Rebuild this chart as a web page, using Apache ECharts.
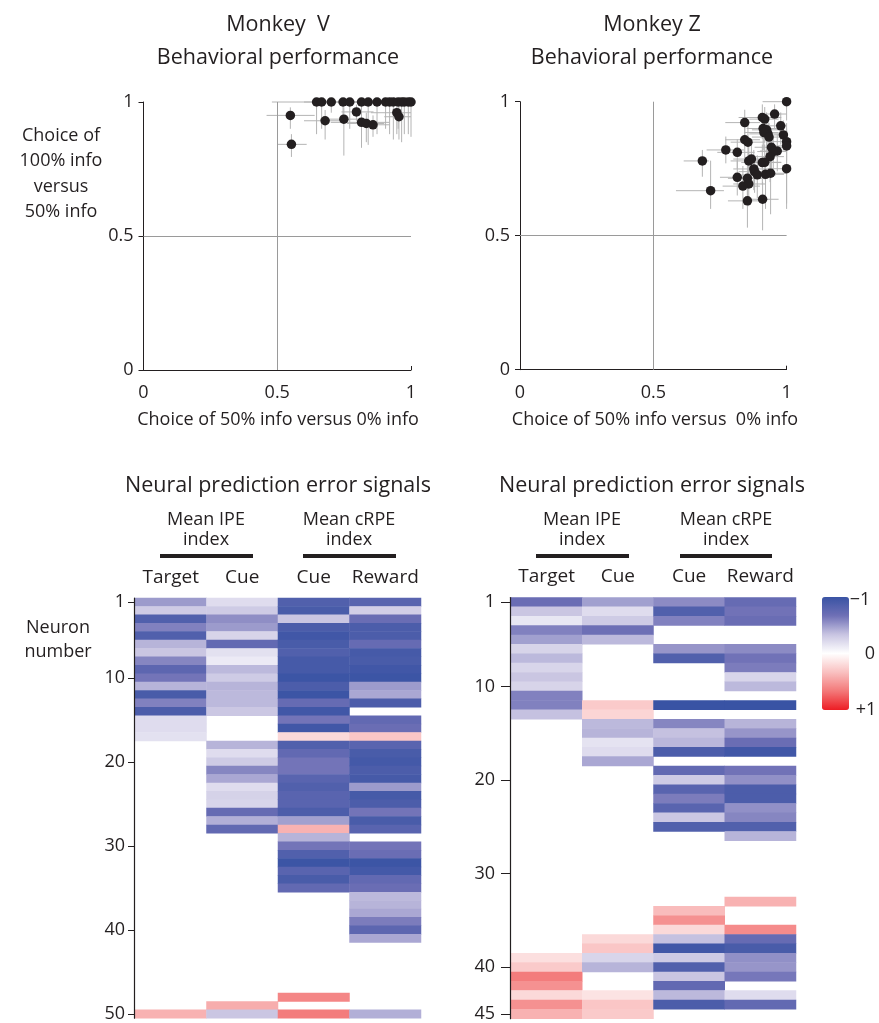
<!DOCTYPE html>
<html><head><meta charset="utf-8">
<script src="https://cdn.jsdelivr.net/npm/echarts@6/dist/echarts.min.js"></script>
<style>html,body{margin:0;padding:0;background:#fff}#c{width:879px;height:1023px}</style>
</head><body><div id="c"></div>
<script>
// ---------- Behavioral performance: Monkey V ----------
const vX   = [0.647,0.666,0.702,0.746,0.771,0.815,0.840,0.873,0.905,0.920,0.934,0.952,0.965,0.975,0.990,1.000,0.549,0.679,0.749,0.796,0.815,0.833,0.858,0.947,0.955,0.553];
const vY   = [1,1,1,1,1,1,1,1,1,1,1,1,1,1,1,1,0.950,0.930,0.936,0.963,0.924,0.920,0.915,0.960,0.945,0.842];
const vXlo = [0.48,0.60,0.66,0.70,0.72,0.78,0.80,0.83,0.86,0.88,0.90,0.92,0.93,0.94,0.96,0.97,0.46,0.60,0.66,0.74,0.70,0.76,0.80,0.85,0.90,0.50];
const vXhi = [0.70,0.72,0.75,0.80,0.82,0.86,0.88,0.91,0.95,0.96,0.97,0.99,1.00,1.00,1.00,1.00,0.64,0.74,0.84,0.86,0.92,0.90,0.92,1.00,1.00,0.61];
const vYlo = [0.88,0.90,0.96,0.92,0.90,0.83,0.84,0.88,0.90,0.88,0.86,0.90,0.85,0.88,0.88,0.87,0.90,0.86,0.80,0.93,0.83,0.85,0.87,0.88,0.86,0.795];
const vYhi = [1,1,1,1,1,1,1,1,1,1,1,1,1,1,1,1,0.98,0.97,0.98,0.99,0.97,0.96,0.95,1.00,0.99,0.88];

// ---------- Behavioral performance: Monkey Z ----------
const zX   = [1.000,0.955,0.909,0.918,0.843,0.978,0.912,0.925,0.930,0.915,0.988,0.934,0.843,0.855,1.000,1.000,0.943,0.965,0.950,0.772,0.815,0.938,0.684,0.858,0.868,0.909,0.918,0.877,0.880,1.000,0.890,0.921,0.940,0.815,0.853,0.858,0.836,0.715,0.853,0.910];
const zY   = [1.000,0.954,0.941,0.935,0.922,0.910,0.900,0.895,0.880,0.885,0.876,0.868,0.858,0.849,0.851,0.835,0.830,0.816,0.814,0.820,0.811,0.795,0.779,0.779,0.786,0.773,0.774,0.749,0.739,0.750,0.727,0.729,0.733,0.718,0.714,0.693,0.685,0.668,0.630,0.636];
const zXlo = [0.91,0.90,0.82,0.86,0.77,0.93,0.85,0.87,0.86,0.84,0.95,0.87,0.77,0.79,0.94,0.95,0.88,0.90,0.89,0.70,0.74,0.87,0.614,0.79,0.80,0.83,0.86,0.80,0.82,0.93,0.83,0.85,0.87,0.75,0.78,0.80,0.76,0.585,0.78,0.84];
const zXhi = [1.00,1.00,0.98,0.97,0.90,1.00,0.97,0.98,0.99,0.97,1.00,0.99,0.90,0.92,1.00,1.00,0.99,1.00,1.00,0.84,0.88,0.99,0.708,0.93,0.93,0.98,0.98,0.95,0.94,1.00,0.96,0.99,1.00,0.88,0.92,0.92,0.90,0.765,0.92,0.97];
const zYlo = [0.93,0.90,0.86,0.85,0.84,0.84,0.82,0.80,0.80,0.82,0.82,0.78,0.79,0.78,0.78,0.60,0.75,0.74,0.72,0.77,0.75,0.70,0.72,0.70,0.72,0.69,0.71,0.67,0.66,0.62,0.64,0.60,0.58,0.65,0.64,0.61,0.60,0.60,0.53,0.52];
const zYhi = [1.00,0.99,0.99,0.98,0.97,0.96,0.95,0.96,0.94,0.93,0.93,0.92,0.92,0.91,0.92,0.90,0.90,0.88,0.87,0.87,0.86,0.86,0.82,0.85,0.85,0.84,0.84,0.82,0.80,0.83,0.80,0.79,0.80,0.78,0.78,0.76,0.76,0.78,0.72,0.70];

const scatterTicks = [0, 0.5, 1];

// ---------- Neural prediction error signals ----------
const columnLabels = ['Target', 'Cue', 'Cue', 'Reward'];
const leftRowTicks = [1, 10, 20, 30, 40, 50];
const rightRowTicks = [1, 10, 20, 30, 40, 45];

// Monkey V (50 neurons)
const vTarget = [-0.5,-0.3,-0.85,-0.6,-0.85,-0.4,-0.33,-0.58,-0.78,-0.65,-0.4,-0.9,-0.6,-0.88,-0.2,-0.2,-0.17,
  null,null,null,null,null,null,null,null,null,null,null,null,null,null,null,null,null,null,null,null,null,null,null,null,null,null,null,null,null,null,null,null,0.4];
const vCueIPE = [-0.2,-0.3,-0.55,-0.5,-0.25,-0.75,-0.17,-0.12,-0.38,-0.3,-0.4,-0.38,-0.38,-0.32,null,null,null,
  -0.4,-0.2,-0.3,-0.58,-0.45,-0.2,-0.26,-0.24,-0.72,-0.42,-0.75,
  null,null,null,null,null,null,null,null,null,null,null,null,null,null,null,null,null,null,null,null,0.42,-0.33];
const vCueRPE = [-0.85,-0.9,-0.33,-0.88,-0.95,-0.9,-0.85,-0.92,-0.92,-0.98,-0.88,-0.98,-0.72,-0.95,-0.65,-0.95,0.2,
  -0.85,-0.75,-0.65,-0.65,-0.8,-0.85,-0.8,-0.8,-0.88,-0.48,0.4,-0.4,-0.65,-0.85,-0.98,-0.8,-0.9,-0.75,
  null,null,null,null,null,null,null,null,null,null,null,null,0.6,null,0.65];
const vReward = [-0.8,-0.28,-0.7,-0.88,-0.88,-0.72,-0.92,-0.9,-0.95,-0.98,-0.5,-0.45,-0.88,null,-0.75,-0.7,0.3,
  -0.8,-0.9,-0.93,-0.88,-0.92,-0.5,-0.92,-0.88,-0.65,-0.9,-0.8,null,-0.65,-0.7,-0.98,-0.93,-0.75,-0.7,
  -0.38,-0.4,-0.45,-0.62,-0.78,-0.45,null,null,null,null,null,null,null,null,-0.42];

// Monkey Z (45 neurons)
const zTarget = [-0.7,-0.33,-0.14,-0.6,-0.48,-0.25,-0.38,-0.24,-0.33,-0.25,-0.6,-0.6,-0.35,
  null,null,null,null,null,null,null,null,null,null,null,null,null,null,null,null,null,null,null,null,null,null,null,null,null,
  0.17,0.28,0.65,0.55,0.2,0.55,0.4];
const zCueIPE = [-0.48,-0.2,-0.3,-0.68,-0.38,null,null,null,null,null,null,0.28,0.22,-0.38,-0.4,-0.16,-0.2,-0.45,
  null,null,null,null,null,null,null,null,null,null,null,null,null,null,null,null,null,null,
  0.2,0.3,-0.24,-0.4,null,null,0.15,0.3,0.28];
const zCueRPE = [-0.56,-0.85,-0.6,null,null,-0.52,-0.85,null,null,null,null,-1,null,-0.58,-0.35,-0.39,-0.88,null,
  -0.75,-0.3,-0.8,-0.62,-0.8,-0.32,-0.85,null,null,null,null,null,null,null,null,
  0.35,0.55,0.2,-0.35,-0.95,-0.3,-0.85,-0.33,-0.75,-0.38,-0.88,null];
const zReward = [-0.72,-0.66,-0.7,null,null,-0.56,-0.66,-0.62,-0.24,-0.38,null,-1,null,-0.4,-0.52,-0.7,-0.95,null,
  -0.66,-0.54,-0.88,-0.88,-0.54,-0.58,-0.85,-0.4,null,null,null,null,null,null,
  0.4,null,null,0.58,-0.72,-0.9,-0.54,-0.52,-0.64,null,-0.2,-0.75,null];

// ---------- build ----------
const INK = '#231f20';
const FONT = 'Open Sans';
const SMALL = 18;
const BIG = 21.5;
function zipErr(x, y, xlo, xhi, ylo, yhi) { return x.map((v, i) => [v, y[i], xlo[i], xhi[i], ylo[i], yhi[i]]); }
function heat(cols) {
  const d = [];
  cols.forEach((arr, c) => arr.forEach((v, r) => { if (v !== null) d.push([c, r, v]); }));
  return d;
}
function errRender(params, api) {
  const y = api.value(1), x = api.value(0);
  const h1 = api.coord([api.value(2), y]), h2 = api.coord([api.value(3), y]);
  const v1 = api.coord([x, api.value(4)]), v2 = api.coord([x, api.value(5)]);
  const st = { stroke: '#b4b4b4', lineWidth: 1 };
  return { type: 'group', children: [
    { type: 'line', shape: { x1: h1[0], y1: h1[1], x2: h2[0], y2: h2[1] }, style: st },
    { type: 'line', shape: { x1: v1[0], y1: v1[1], x2: v2[0], y2: v2[1] }, style: st }
  ]};
}
const labelFont = { fontFamily: FONT, fontSize: SMALL, color: INK };
function scatterX(gi) {
  return { gridIndex: gi, type: 'value', min: 0, max: 1, interval: 0.5,
    axisLine: { show: true, lineStyle: { color: INK, width: 1 } },
    axisTick: { show: true, inside: true, length: 4, lineStyle: { color: INK } },
    axisLabel: Object.assign({ margin: 14, formatter: v => scatterTicks.includes(v) ? String(v) : '' }, labelFont),
    splitLine: { show: false } };
}
function scatterY(gi) {
  return { gridIndex: gi, type: 'value', min: 0, max: 1, interval: 0.5,
    axisLine: { show: true, lineStyle: { color: INK, width: 1 } },
    axisTick: { show: true, length: 5, lineStyle: { color: INK } },
    axisLabel: Object.assign({ margin: 10, formatter: v => scatterTicks.includes(v) ? String(v) : '' }, labelFont),
    splitLine: { show: false } };
}
const rowsL = Array.from({ length: vTarget.length }, (_, i) => String(i + 1));
const rowsR = Array.from({ length: zTarget.length }, (_, i) => String(i + 1));
function heatY(gi, rows, ticks, margin, tlen) {
  const f = (idx, val) => ticks.includes(+val);
  return { gridIndex: gi, type: 'category', data: rows, inverse: true, z: 5, offset: 1,
    axisLine: { show: true, lineStyle: { color: INK, width: 1.2 } },
    axisTick: { show: true, interval: f, alignWithLabel: true, length: tlen, lineStyle: { color: INK } },
    axisLabel: Object.assign({ interval: f, margin: margin }, labelFont),
    splitLine: { show: false } };
}
function heatX(gi) {
  return { gridIndex: gi, type: 'category', data: columnLabels, position: 'top',
    axisLine: { show: false }, axisTick: { show: false },
    axisLabel: Object.assign({ margin: 11, interval: 0 }, labelFont, { fontSize: 19 }), splitLine: { show: false } };
}
const gridLineMark = { silent: true, symbol: ['none', 'none'], label: { show: false },
  lineStyle: { color: '#9a9a9a', width: 1, type: 'solid' }, data: [{ xAxis: 0.5 }, { yAxis: 0.5 }] };

function t(x, y, text, size, extra) {
  return { type: 'text', x: x, y: y, style: Object.assign({ text: text, fontFamily: FONT, fontSize: size,
    fill: INK, align: 'center', verticalAlign: 'middle', lineHeight: Math.round(size * 1.5) }, extra || {}) };
}
function bar(x1, x2, y) { return { type: 'rect', shape: { x: x1, y: y - 2, width: x2 - x1, height: 4 }, style: { fill: INK } }; }

const chart = echarts.init(document.getElementById('c'), null, { renderer: 'canvas' });
chart.setOption({
  animation: false,
  backgroundColor: '#fff',
  grid: [
    { left: 143.5, top: 102, width: 267.5, height: 268 },
    { left: 520, top: 101.7, width: 266.6, height: 268 },
    { left: 135, top: 598, width: 286, height: 422.5 },
    { left: 511, top: 597.5, width: 285, height: 421.6 }
  ],
  xAxis: [scatterX(0), scatterX(1), heatX(2), heatX(3)],
  yAxis: [scatterY(0), scatterY(1), heatY(2, rowsL, leftRowTicks, 9, 6), heatY(3, rowsR, rightRowTicks, 15, 9)],
  visualMap: {
    type: 'continuous', min: -1, max: 1, seriesIndex: [4, 5], inverse: true, calculable: false,
    hoverLink: false, left: 822, top: 597, itemWidth: 27, itemHeight: 113, padding: 0, text: null,
    inRange: { color: ['#3953a4', '#6f70b6', '#c9c5e2', '#ffffff', '#f9c0c0', '#f37878', '#ed1c24'] }
  },
  series: [
    { type: 'custom', xAxisIndex: 0, yAxisIndex: 0, renderItem: errRender, data: zipErr(vX, vY, vXlo, vXhi, vYlo, vYhi),
      encode: { x: [0, 2, 3], y: [1, 4, 5] }, markLine: gridLineMark, silent: true, clip: false, z: 1 },
    { type: 'scatter', xAxisIndex: 0, yAxisIndex: 0, data: vX.map((v, i) => [v, vY[i]]), symbolSize: 9.5,
      itemStyle: { color: INK, opacity: 1 }, z: 3 },
    { type: 'custom', xAxisIndex: 1, yAxisIndex: 1, renderItem: errRender, data: zipErr(zX, zY, zXlo, zXhi, zYlo, zYhi),
      encode: { x: [0, 2, 3], y: [1, 4, 5] }, markLine: gridLineMark, silent: true, clip: false, z: 1 },
    { type: 'scatter', xAxisIndex: 1, yAxisIndex: 1, data: zX.map((v, i) => [v, zY[i]]), symbolSize: 9.5,
      itemStyle: { color: INK, opacity: 1 }, z: 3 },
    { type: 'heatmap', xAxisIndex: 2, yAxisIndex: 2, data: heat([vTarget, vCueIPE, vCueRPE, vReward]),
      itemStyle: { borderWidth: 0 }, emphasis: { disabled: true } },
    { type: 'heatmap', xAxisIndex: 3, yAxisIndex: 3, data: heat([zTarget, zCueIPE, zCueRPE, zReward]),
      itemStyle: { borderWidth: 0 }, emphasis: { disabled: true } }
  ],
  graphic: [
    t(278, 25, 'Monkey  V', BIG), t(278, 58, 'Behavioral performance', BIG),
    t(652, 25, 'Monkey Z', BIG), t(652, 58, 'Behavioral performance', BIG),
    t(61, 174, 'Choice of\n100% info\nversus\n50% info', SMALL, { lineHeight: 25.5 }),
    t(278, 420, 'Choice of 50% info versus 0% info', SMALL),
    t(655, 420, 'Choice of 50% info versus  0% info', SMALL),
    t(278, 486, 'Neural prediction error signals', BIG),
    t(652, 486, 'Neural prediction error signals', BIG),
    t(206, 530, 'Mean IPE\nindex', SMALL, { lineHeight: 20 }),
    t(349, 530, 'Mean cRPE\nindex', SMALL, { lineHeight: 20 }),
    t(582, 530, 'Mean IPE\nindex', SMALL, { lineHeight: 20 }),
    t(726, 530, 'Mean cRPE\nindex', SMALL, { lineHeight: 20 }),
    bar(160, 253, 556), bar(303, 396, 556), bar(536, 629, 556), bar(680, 772, 556),
    t(58, 640, 'Neuron\nnumber', SMALL, { lineHeight: 24 }),
    t(860, 600, '\u22121', SMALL), t(870, 654, '0', SMALL), t(866, 710, '+1', SMALL)
  ]
});
</script>
</body></html>
